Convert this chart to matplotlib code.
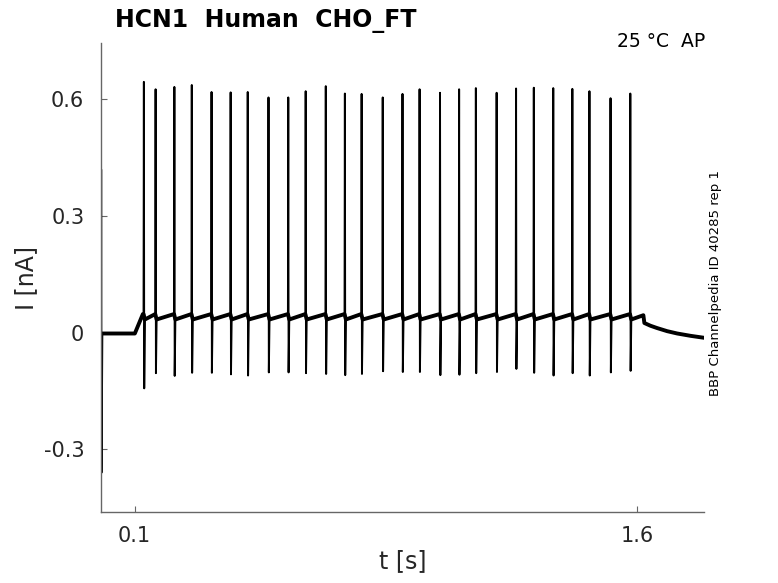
import numpy as np
import matplotlib
matplotlib.use('Agg')
import matplotlib.pyplot as plt

# spike times [s], peak and trough currents [nA]
spike_t = [0.128, 0.163, 0.219, 0.271, 0.330, 0.387, 0.438, 0.500, 0.559,
           0.611, 0.671, 0.728, 0.778, 0.841, 0.900, 0.951, 1.012, 1.069,
           1.119, 1.181, 1.239, 1.292, 1.350, 1.407, 1.458, 1.521, 1.580]
spike_peak = [0.645, 0.626, 0.632, 0.637, 0.619, 0.618, 0.619, 0.605, 0.605,
              0.621, 0.634, 0.615, 0.614, 0.605, 0.614, 0.626, 0.617, 0.626,
              0.629, 0.617, 0.628, 0.630, 0.629, 0.627, 0.621, 0.603, 0.615]
spike_trough = [-0.143, -0.104, -0.111, -0.103, -0.103, -0.107, -0.110, -0.102, -0.102,
                -0.104, -0.106, -0.109, -0.106, -0.099, -0.101, -0.101, -0.109, -0.108,
                -0.104, -0.101, -0.093, -0.103, -0.110, -0.104, -0.110, -0.102, -0.098]

# holding level and step onset
t_start = [0.0, 0.0005, 0.0015, 0.004, 0.101, 0.125]
i_start = [-0.002, 0.42, -0.36, -0.002, -0.002, 0.048]
base_after = 0.034   # level right after a spike
base_before = 0.048  # level just before the next spike
# end of step and decay
t_tail = [1.583, 1.619, 1.622, 1.64, 1.66, 1.69, 1.72, 1.76, 1.80]
i_tail = [0.034, 0.045, 0.025, 0.018, 0.012, 0.004, -0.002, -0.008, -0.013]

# assemble the trace
t_all = list(t_start)
i_all = list(i_start)
t_base = list(t_start[3:])
i_base = list(i_start[3:])
for k in range(len(spike_t)):
    t_all += [spike_t[k] - 0.001, spike_t[k], spike_t[k] + 0.001, spike_t[k] + 0.003]
    i_all += [base_before, spike_peak[k], spike_trough[k], base_after]
    t_base += [spike_t[k] - 0.001, spike_t[k] + 0.003]
    i_base += [base_before, base_after]
t_all += t_tail
i_all += i_tail
t_base += t_tail
i_base += i_tail

fig = plt.figure(figsize=(7.78, 5.83), dpi=100)
ax = fig.add_axes([101/778, 1-512/583, (704-101)/778, (512-43)/583])

ax.plot(t_base, i_base, color='k', lw=2.8)
ax.plot(t_all, i_all, color='k', lw=1.4)

ax.set_xlim(0, 1.8)
ax.set_ylim(-0.461, 0.745)
ax.set_xticks([0.1, 1.6])
ax.set_xticklabels(['0.1', '1.6'])
ax.set_yticks([-0.3, 0, 0.3, 0.6])
ax.set_yticklabels(['-0.3', '0', '0.3', '0.6'])
for s in ['top', 'right']:
    ax.spines[s].set_visible(False)
for s in ['left', 'bottom']:
    ax.spines[s].set_color('#666666')
    ax.spines[s].set_linewidth(1.0)
ax.tick_params(direction='in', length=4.5, color='#666666', labelsize=15,
               labelcolor='#262626')
ax.tick_params(axis='y', pad=12)
ax.tick_params(axis='x', pad=10)
ax.set_xlabel('t [s]', fontsize=17, color='#262626', labelpad=2)
ax.set_ylabel('I [nA]', fontsize=17, color='#262626', labelpad=4)

fig.text(115/778, 1-27/583, 'HCN1  Human  CHO_FT', fontsize=17, fontweight='bold',
         va='baseline', ha='left')
fig.text(705/778, 1-47/583, '25 °C  AP', fontsize=13.5, va='baseline', ha='right')
fig.text(716/778, 1-283/583, 'BBP Channelpedia ID 40285 rep 1', fontsize=9.5,
         rotation=90, ha='center', va='center')

fig.savefig('out.png', dpi=100)
